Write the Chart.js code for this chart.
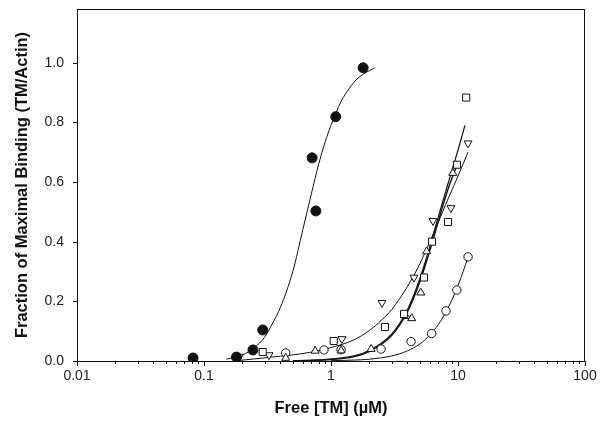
<!DOCTYPE html>
<html>
<head>
<meta charset="utf-8">
<script src="https://cdn.jsdelivr.net/npm/chart.js@4.4.1/dist/chart.umd.min.js"></script>
<style>
    html, body { margin: 0; padding: 0; background: #fff; }
    #wrap { width: 605px; height: 425px; }
</style>
</head>
<body>
<div id="wrap"><canvas id="bindingChart" width="605" height="425"></canvas></div>
<script>
// Axis ticks
const xDecades = [0.01, 0.1, 1, 10, 100];
const xDecadeLabels = ['0.01', '0.1', '1', '10', '100'];
const yTicks = [0, 0.2, 0.4, 0.6, 0.8, 1.0];

// Measured points (free TM in uM, fraction bound)
const filledX = [0.082, 0.18, 0.243, 0.29, 0.71, 0.76, 1.09, 1.79];
const filledY = [0.01, 0.013, 0.037, 0.104, 0.681, 0.503, 0.819, 0.983];

const squareX = [0.29, 1.05, 2.66, 3.76, 5.4, 6.24, 8.34, 9.8, 11.6];
const squareY = [0.03, 0.067, 0.114, 0.158, 0.28, 0.40, 0.466, 0.658, 0.883];

const downX = [0.19, 0.325, 1.22, 2.52, 4.5, 6.35, 8.8, 12.0];
const downY = [0.015, 0.02, 0.074, 0.195, 0.28, 0.47, 0.513, 0.73];

const upX = [0.44, 0.75, 1.2, 2.07, 3.9, 4.32, 5.09, 5.66, 9.1];
const upY = [0.01, 0.034, 0.035, 0.04, 0.15, 0.143, 0.229, 0.367, 0.63];

const circleX = [0.44, 0.88, 1.2, 2.48, 4.27, 6.2, 8.05, 9.8, 12.0];
const circleY = [0.027, 0.037, 0.038, 0.04, 0.065, 0.092, 0.168, 0.238, 0.349];

// Fitted curves
const fitFilledX = [0.15, 0.2, 0.25, 0.3, 0.35, 0.4, 0.5, 0.6, 0.7, 0.8, 0.9, 1.0, 1.2, 1.4, 1.6, 1.8, 2.0, 2.2];
const fitFilledY = [0.006, 0.02, 0.045, 0.08, 0.13, 0.18, 0.30, 0.44, 0.56, 0.66, 0.735, 0.79, 0.87, 0.915, 0.945, 0.962, 0.973, 0.982];

const fitDownX = [0.17, 0.25, 0.4, 0.6, 0.8, 1.0, 1.5, 2.0, 2.5, 3, 4, 5, 6, 7, 8, 9, 10, 11, 12];
const fitDownY = [0.0, 0.007, 0.016, 0.025, 0.035, 0.045, 0.07, 0.102, 0.137, 0.172, 0.25, 0.325, 0.4, 0.465, 0.525, 0.575, 0.62, 0.662, 0.70];

const fitSquareX = [0.5, 1, 1.5, 2, 3, 4, 5, 6, 7, 8, 9, 10, 11.35];
const fitSquareY = [0.001, 0.006, 0.017, 0.035, 0.09, 0.172, 0.275, 0.383, 0.483, 0.568, 0.642, 0.707, 0.79];

const fitUpX = [0.6, 1, 1.5, 2, 3, 4, 5, 6, 7, 8, 9, 9.8];
const fitUpY = [0.001, 0.005, 0.014, 0.031, 0.085, 0.165, 0.265, 0.37, 0.468, 0.552, 0.615, 0.655];

const fitCircleX = [1, 1.5, 2, 3, 4, 5, 6, 7, 8, 9, 10, 11, 12];
const fitCircleY = [0.001, 0.003, 0.006, 0.017, 0.034, 0.057, 0.087, 0.122, 0.163, 0.207, 0.253, 0.301, 0.349];

const FONT = "'Liberation Sans', Arial, sans-serif";
const INK = '#111';

function pts(xs, ys) {
    return xs.map((x, i) => ({ x: x, y: ys[i] }));
}

function markers(xs, ys, style, radius, fill, rotation) {
    return {
        data: pts(xs, ys),
        showLine: false,
        pointStyle: style,
        pointRadius: radius,
        pointRotation: rotation || 0,
        pointBackgroundColor: fill,
        pointBorderColor: INK,
        pointBorderWidth: 1,
        order: 1
    };
}

function curve(xs, ys, width) {
    return {
        data: pts(xs, ys),
        showLine: true,
        borderColor: INK,
        borderWidth: width,
        pointRadius: 0,
        cubicInterpolationMode: 'monotone',
        order: 2
    };
}

// frame around the plot and outward tick marks
const frameAndTicks = {
    id: 'frameAndTicks',
    beforeDatasetsDraw(chart) {
        const { ctx, chartArea: a, scales } = chart;
        ctx.save();
        ctx.strokeStyle = INK;
        ctx.lineWidth = 1;
        ctx.strokeRect(a.left + 0.5, a.top + 0.5, a.right - a.left - 1, a.bottom - a.top);
        ctx.beginPath();
        scales.x.ticks.forEach(t => {
            const px = Math.round(scales.x.getPixelForValue(t.value)) + 0.5;
            const len = t.major ? 5 : 3;
            ctx.moveTo(px, a.bottom);
            ctx.lineTo(px, a.bottom + len);
        });
        scales.y.ticks.forEach(t => {
            const py = Math.round(scales.y.getPixelForValue(t.value)) + 0.5;
            ctx.moveTo(a.left - 4, py);
            ctx.lineTo(a.left, py);
        });
        ctx.stroke();
        ctx.restore();
    }
};

const ctx = document.getElementById('bindingChart').getContext('2d');
new Chart(ctx, {
    type: 'scatter',
    data: {
        datasets: [
            markers(filledX, filledY, 'circle', 5, INK),
            markers(squareX, squareY, 'rect', 5, '#fff'),
            markers(downX, downY, 'triangle', 4.6, '#fff', 180),
            markers(upX, upY, 'triangle', 4.6, '#fff'),
            markers(circleX, circleY, 'circle', 4.2, '#fff'),
            curve(fitFilledX, fitFilledY, 1),
            curve(fitDownX, fitDownY, 1),
            curve(fitSquareX, fitSquareY, 1.2),
            curve(fitUpX, fitUpY, 1.4),
            curve(fitCircleX, fitCircleY, 1)
        ]
    },
    options: {
        responsive: false,
        animation: false,
        layout: { padding: { top: 9, right: 20, left: 0, bottom: 0 } },
        plugins: {
            legend: { display: false },
            tooltip: { enabled: false }
        },
        scales: {
            x: {
                type: 'logarithmic',
                min: 0.01,
                max: 100,
                afterBuildTicks: scale => {
                    const ticks = [];
                    xDecades.forEach((d, i) => {
                        if (i === xDecades.length - 1) {
                            ticks.push({ value: d, major: true });
                            return;
                        }
                        for (let m = 1; m <= 9; m++) {
                            ticks.push({ value: d * m, major: m === 1 });
                        }
                    });
                    scale.ticks = ticks;
                },
                afterFit: scale => {
                    scale.height = 64;
                    scale.paddingLeft = 0;
                    scale.paddingRight = 0;
                },
                grid: { display: true, drawOnChartArea: false, drawTicks: false },
                border: { display: false },
                ticks: {
                    autoSkip: false,
                    maxRotation: 0,
                    padding: 7,
                    color: '#222',
                    font: { family: FONT, size: 14 },
                    callback: function(value) {
                        const i = xDecades.findIndex(d => Math.abs(Math.log10(d) - Math.log10(value)) < 1e-6);
                        return i >= 0 ? xDecadeLabels[i] : '';
                    }
                },
                title: {
                    display: true,
                    text: 'Free [TM] (\u00b5M)',
                    color: INK,
                    font: { family: FONT, size: 16.5, weight: 'bold' },
                    padding: { top: 0, bottom: 7 }
                }
            },
            y: {
                min: 0,
                max: 1.18,
                afterBuildTicks: scale => {
                    scale.ticks = yTicks.map(v => ({ value: v }));
                },
                afterFit: scale => {
                    scale.width = 77;
                    scale.paddingTop = 0;
                    scale.paddingBottom = 0;
                },
                grid: { display: true, drawOnChartArea: false, drawTicks: false },
                border: { display: false },
                ticks: {
                    padding: 13,
                    color: '#222',
                    font: { family: FONT, size: 14 },
                    callback: v => Number(v).toFixed(1)
                },
                title: {
                    display: true,
                    text: 'Fraction of Maximal Binding (TM/Actin)',
                    color: INK,
                    font: { family: FONT, size: 16.5, weight: 'bold' },
                    padding: { top: 13, bottom: 0 }
                }
            }
        }
    },
    plugins: [frameAndTicks]
});
</script>
</body>
</html>
